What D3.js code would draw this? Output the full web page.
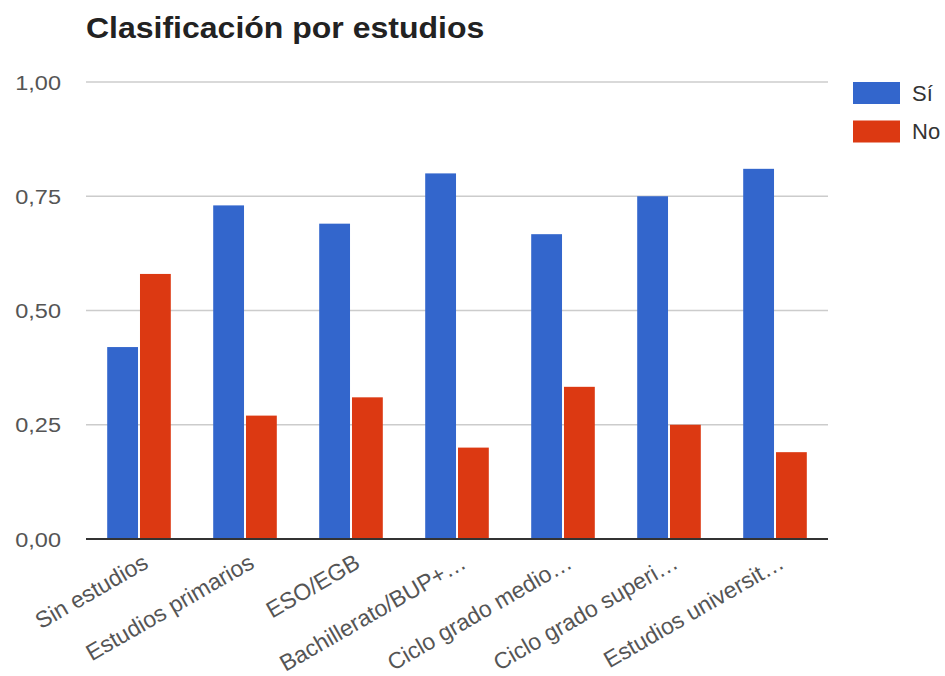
<!DOCTYPE html>
<html><head><meta charset="utf-8">
<script src="https://cdn.jsdelivr.net/npm/d3@7"></script>
<style>body{margin:0;background:#fff}svg{display:block;font-family:"Liberation Sans",Arial,sans-serif}</style>
</head><body><svg id="c" width="945" height="676"></svg>
<script>
const categories = ["Sin estudios","Estudios primarios","ESO/EGB","Bachillerato/BUP+…","Ciclo grado medio…","Ciclo grado superi…","Estudios universit…"];
const seriesNames = ["Sí","No"];
const si = [0.42,0.73,0.69,0.80,0.667,0.75,0.81];
const no = [0.58,0.27,0.31,0.20,0.333,0.25,0.19];
const yTicks = [0,0.25,0.5,0.75,1];
const colors = ["#3366cc","#dc3912"];

const svg = d3.select("#c");
const x = d3.scaleBand().domain(categories).range([86,828]).paddingInner(0.4).paddingOuter(0.2);
const x1 = d3.scaleBand().domain(seriesNames).range([0,x.bandwidth()]).paddingInner(0.06);
const y = d3.scaleLinear().domain([0,1]).range([539,82]);
const fmt = d => d3.format(".2f")(d).replace(".",",");

svg.append("text").attr("x",86).attr("y",38).attr("font-size",29.5).attr("font-weight","bold").attr("fill","#222")
  .attr("transform","translate(86,0) scale(1.085,1) translate(-86,0)").text("Clasificación por estudios");

const ga = svg.append("g");
ga.selectAll("line.grid").data(yTicks.filter(d=>d>0)).join("line")
  .attr("x1",86).attr("x2",828).attr("y1",d=>y(d)).attr("y2",d=>y(d))
  .attr("stroke","#cccccc").attr("stroke-width",1.5);
ga.selectAll("text.yl").data(yTicks).join("text")
  .attr("x",0).attr("y",0).attr("dy","0.36em").attr("text-anchor","end")
  .attr("transform",d=>`translate(61,${y(d)}) scale(1.12,1)`)
  .attr("font-size",21).attr("fill","#555").text(fmt);

const data = [si,no];
const groups = svg.append("g").selectAll("g").data(categories).join("g")
  .attr("transform",d=>`translate(${x(d)},0)`);
groups.selectAll("rect").data((d,i)=>seriesNames.map((s,k)=>({s,v:data[k][i],k}))).join("rect")
  .attr("x",d=>x1(d.s)).attr("width",x1.bandwidth())
  .attr("y",d=>y(d.v)).attr("height",d=>y(0)-y(d.v)).attr("fill",d=>colors[d.k]);

svg.append("line").attr("x1",86).attr("x2",828).attr("y1",y(0)).attr("y2",y(0)).attr("stroke","#333").attr("stroke-width",2);

svg.append("g").selectAll("text").data(categories).join("text")
  .attr("transform",d=>`translate(${x(d)+x.bandwidth()/2+2},552) rotate(-30)`)
  .attr("text-anchor","end").attr("dy","0.75em").attr("font-size",23).attr("fill","#555").text(d=>d);

const leg = svg.append("g").selectAll("g").data(seriesNames).join("g")
  .attr("transform",(d,i)=>`translate(853,${82+i*38.5})`);
leg.append("rect").attr("width",47).attr("height",22).attr("fill",(d,i)=>colors[i]);
leg.append("text").attr("x",59).attr("y",11).attr("dy","0.36em").attr("font-size",22).attr("fill","#333").text(d=>d);
</script></body></html>
